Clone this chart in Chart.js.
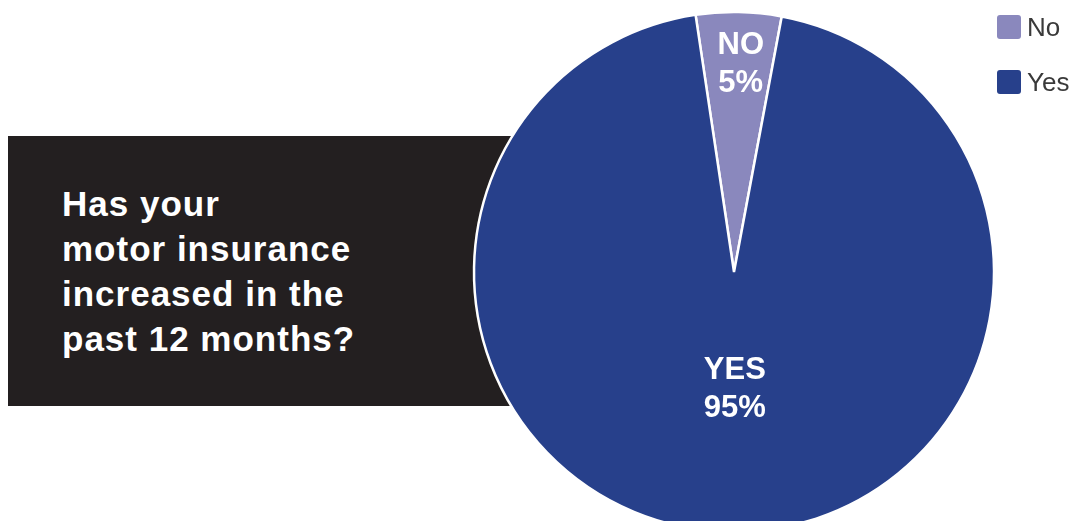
<!DOCTYPE html>
<html>
<head>
<meta charset="utf-8">
<script src="https://cdn.jsdelivr.net/npm/chart.js@4"></script>
<style>
  html, body { margin: 0; padding: 0; background: #fff; overflow: hidden; }
  body { width: 1075px; height: 521px; position: relative; font-family: "Liberation Sans", Arial, sans-serif; }
  #box { position: absolute; left: 8px; top: 136px; width: 520px; height: 270px; background: #231f20; }
  #question { position: absolute; left: 62px; top: 181px; color: #fff; font-weight: bold; font-size: 35px; line-height: 45px; letter-spacing: 1px; }
  #pie { position: absolute; left: 0; top: 0; }
  #legend { position: absolute; left: 997px; top: 15px; }
  .item { display: flex; align-items: center; height: 24px; margin-bottom: 31px; }
  .swatch { width: 24px; height: 24px; border-radius: 3px; margin-right: 6px; }
  .item span { font-size: 26px; color: #3a3a3a; }
</style>
</head>
<body>
<div id="box"></div>
<div id="question">Has your<br>motor insurance<br>increased in the<br>past 12 months?</div>
<canvas id="pie" width="1075" height="544"></canvas>
<div id="legend"></div>
<script>
const labels = ['No', 'Yes'];
const sliceLabels = ['NO', 'YES'];
const values = [5.3, 94.7];
const colors = ['#8a88bd', '#27408b'];

// legend in the top right corner
const legend = document.getElementById('legend');
labels.forEach((label, i) => {
  const item = document.createElement('div');
  item.className = 'item';
  item.innerHTML = `<div class="swatch" style="background:${colors[i]}"></div><span>${label}</span>`;
  legend.appendChild(item);
});

// text inside the slices
const sliceText = {
  id: 'sliceText',
  afterDatasetsDraw(chart) {
    const ctx = chart.ctx;
    const meta = chart.getDatasetMeta(0);
    const dist = [0.8, 0.45];
    ctx.save();
    ctx.fillStyle = '#fff';
    ctx.font = 'bold 31px "Liberation Sans", Arial, sans-serif';
    ctx.textAlign = 'center';
    ctx.textBaseline = 'middle';
    meta.data.forEach((arc, i) => {
      const { x, y, startAngle, endAngle, outerRadius } = arc.getProps(['x', 'y', 'startAngle', 'endAngle', 'outerRadius'], true);
      const mid = (startAngle + endAngle) / 2;
      const r = outerRadius * dist[i];
      const cx = x + Math.cos(mid) * r + 3;
      const cy = y + Math.sin(mid) * r;
      ctx.fillText(sliceLabels[i], cx, cy - 19);
      ctx.fillText(Math.round(values[i]) + '%', cx, cy + 19);
    });
    ctx.restore();
  }
};

new Chart(document.getElementById('pie'), {
  type: 'pie',
  data: {
    labels: labels,
    datasets: [{
      data: values,
      backgroundColor: colors,
      borderColor: '#fff',
      borderWidth: 2.5
    }]
  },
  options: {
    responsive: false,
    animation: false,
    rotation: -8.5,
    radius: 260,
    layout: { padding: { left: 393, right: 0, top: 0, bottom: 0 } },
    plugins: {
      legend: { display: false },
      tooltip: { enabled: false }
    }
  },
  plugins: [sliceText]
});
</script>
</body>
</html>
